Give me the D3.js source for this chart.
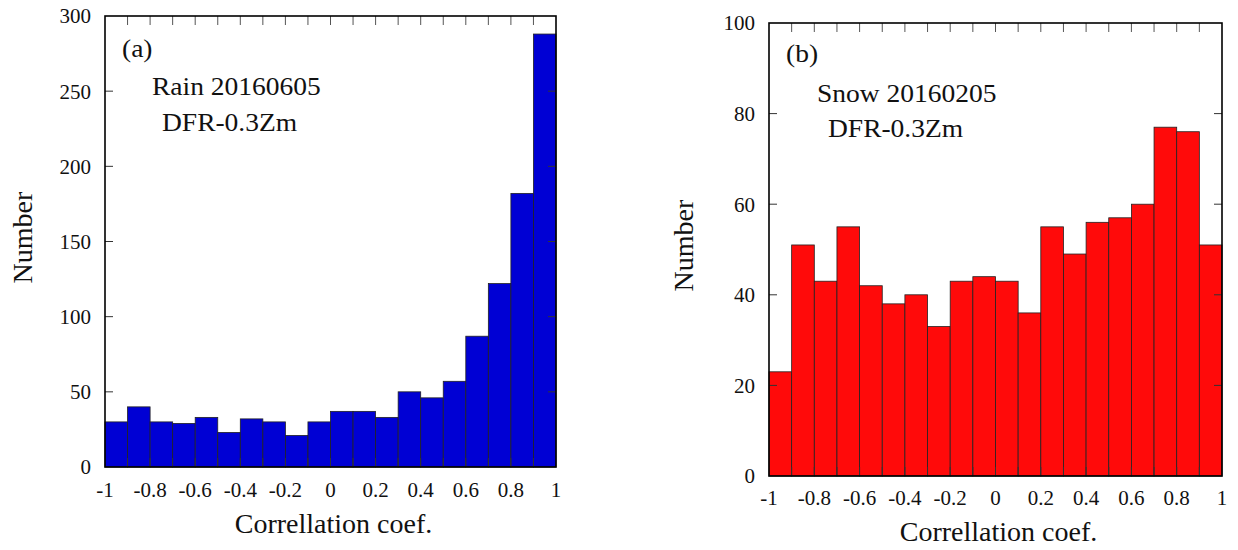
<!DOCTYPE html>
<html>
<head>
<meta charset="utf-8">
<script src="https://cdn.jsdelivr.net/npm/d3@7"></script>
<style>
  body { margin: 0; background: #fff; }
  text { font-family: "Liberation Serif", "Times New Roman", serif; fill: #111; }
</style>
</head>
<body>
<svg id="chart" width="1238" height="550"></svg>
<script>
// bins of width 0.1 from -1 to 1
const binStarts = [-1, -0.9, -0.8, -0.7, -0.6, -0.5, -0.4, -0.3, -0.2, -0.1,
                   0, 0.1, 0.2, 0.3, 0.4, 0.5, 0.6, 0.7, 0.8, 0.9];
const rainCounts = [30, 40, 30, 29, 33, 23, 32, 30, 21, 30,
                    37, 37, 33, 50, 46, 57, 87, 122, 182, 288];
const snowCounts = [23, 51, 43, 55, 42, 38, 40, 33, 43, 44,
                    43, 36, 55, 49, 56, 57, 60, 77, 76, 51];
const xTickValues = [-1, -0.8, -0.6, -0.4, -0.2, 0, 0.2, 0.4, 0.6, 0.8, 1];
const xTickLabels = ["-1", "-0.8", "-0.6", "-0.4", "-0.2", "0", "0.2", "0.4", "0.6", "0.8", "1"];
const rainYTicks = [0, 50, 100, 150, 200, 250, 300];
const snowYTicks = [0, 20, 40, 60, 80, 100];

const svg = d3.select("#chart");
svg.append("rect").attr("width", 1238).attr("height", 550).attr("fill", "#fff");

// 画一个面板
function drawPanel(opt) {
  const { x0, x1, y0, y1, counts, yMax, yTicks, color, tag, title, sub,
          tagPos, titlePos, subPos, xLabY, xTitleY, yTitleX, yTitleDy } = opt;
  const g = svg.append("g");

  const x = d3.scaleLinear().domain([-1, 1]).range([x0, x1]);
  const y = d3.scaleLinear().domain([0, yMax]).range([y1, y0]);

  // bars
  g.selectAll("rect.bar")
    .data(binStarts.map((b, i) => ({ b, v: counts[i] })))
    .join("rect")
    .attr("class", "bar")
    .attr("x", d => x(d.b))
    .attr("y", d => y(d.v))
    .attr("width", d => x(d.b + 0.1) - x(d.b))
    .attr("height", d => y(0) - y(d.v))
    .attr("fill", color)
    .attr("stroke", "#222")
    .attr("stroke-width", 0.8);

  // minor ticks on top and bottom, every 0.1
  const tickLen = 9;
  const xt = d3.range(1, 20).map(i => -1 + i * 0.1);
  g.selectAll("line.xt-top").data(xt).join("line")
    .attr("x1", d => x(d)).attr("x2", d => x(d))
    .attr("y1", y0).attr("y2", y0 + tickLen)
    .attr("stroke", "#555").attr("stroke-width", 1);
  g.selectAll("line.xt-bot").data(xt).join("line")
    .attr("x1", d => x(d)).attr("x2", d => x(d))
    .attr("y1", y1).attr("y2", y1 - tickLen)
    .attr("stroke", "#333").attr("stroke-width", 1);

  // y ticks left + right
  const yt = yTicks.slice(1, -1);
  g.selectAll("line.yt-l").data(yt).join("line")
    .attr("x1", x0).attr("x2", x0 + 8)
    .attr("y1", d => y(d)).attr("y2", d => y(d))
    .attr("stroke", "#333").attr("stroke-width", 1);
  g.selectAll("line.yt-r").data(yt).join("line")
    .attr("x1", x1).attr("x2", x1 - 8)
    .attr("y1", d => y(d)).attr("y2", d => y(d))
    .attr("stroke", "#333").attr("stroke-width", 1);

  // frame
  g.append("rect")
    .attr("x", x0).attr("y", y0)
    .attr("width", x1 - x0).attr("height", y1 - y0)
    .attr("fill", "none").attr("stroke", "#000").attr("stroke-width", 1.6);

  // tick labels
  g.selectAll("text.yl").data(yTicks).join("text")
    .attr("x", x0 - 14).attr("y", d => y(d))
    .attr("dy", "0.35em")
    .attr("text-anchor", "end")
    .attr("font-size", 21)
    .text(d => d);
  g.selectAll("text.xl").data(xTickValues).join("text")
    .attr("x", d => x(d)).attr("y", xLabY)
    .attr("text-anchor", "middle")
    .attr("font-size", 21)
    .text((d, i) => xTickLabels[i]);

  // axis titles
  g.append("text")
    .attr("x", (x0 + x1) / 2 + 3).attr("y", xTitleY)
    .attr("text-anchor", "middle")
    .attr("font-size", 28)
    .text("Correllation coef.");
  g.append("text")
    .attr("transform", `translate(${yTitleX},${(y0 + y1) / 2 + yTitleDy}) rotate(-90)`)
    .attr("text-anchor", "middle")
    .attr("font-size", 28)
    .text("Number");

  // annotations (原图略有横向拉伸)
  [[tag, tagPos], [title, titlePos], [sub, subPos]].forEach(([t, p]) => {
    g.append("text")
      .attr("transform", `translate(${p[0]},${p[1]}) scale(1.1,1)`)
      .attr("font-size", 25)
      .text(t);
  });
}

drawPanel({
  x0: 105, x1: 556, y0: 16, y1: 467,
  counts: rainCounts, yMax: 300, yTicks: rainYTicks, color: "#0000d4",
  tag: "(a)", title: "Rain 20160605", sub: "DFR-0.3Zm",
  tagPos: [122, 57], titlePos: [152, 95], subPos: [162, 131],
  xLabY: 497, xTitleY: 533, yTitleX: 32, yTitleDy: -4
});

drawPanel({
  x0: 769, x1: 1222, y0: 23, y1: 476,
  counts: snowCounts, yMax: 100, yTicks: snowYTicks, color: "#ff0a0a",
  tag: "(b)", title: "Snow 20160205", sub: "DFR-0.3Zm",
  tagPos: [786, 62], titlePos: [817, 102], subPos: [828, 137],
  xLabY: 505, xTitleY: 541, yTitleX: 693, yTitleDy: -4
});
</script>
</body>
</html>
